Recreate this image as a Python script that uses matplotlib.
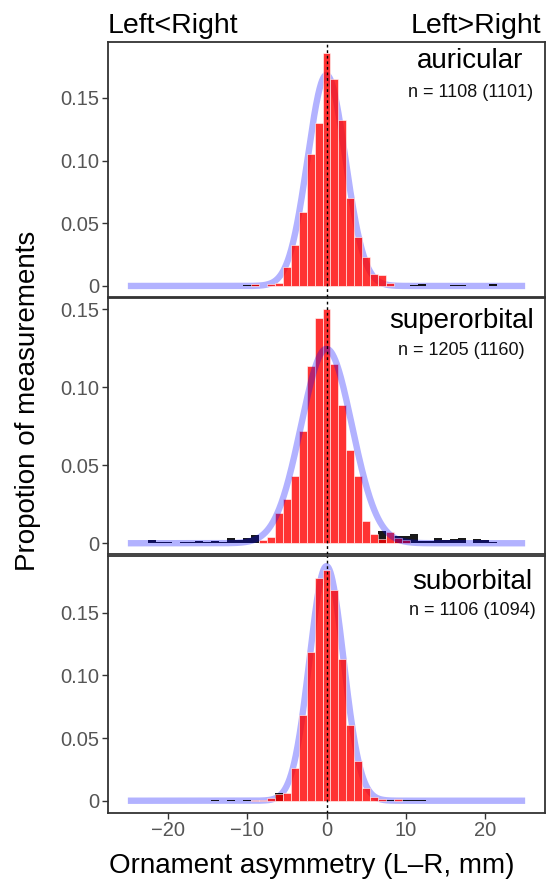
import numpy as np
import matplotlib
matplotlib.use('Agg')
import matplotlib.pyplot as plt

plt.rcParams['font.family'] = ['Liberation Sans', 'DejaVu Sans']
plt.rcParams['axes.unicode_minus'] = True

panels = ['auricular', 'superorbital', 'suborbital']
n_labels = ['n = 1108 (1101)', 'n = 1205 (1160)', 'n = 1106 (1094)']

aur_bins = [-9, -7, -6, -5, -4, -3, -2, -1, 0, 1, 2, 3, 4, 5, 6, 7, 8]
aur_vals = [0.0013, 0.0015, 0.002, 0.015, 0.033, 0.059, 0.105, 0.130, 0.186,
            0.165, 0.132, 0.0705, 0.039, 0.023, 0.0096, 0.0088, 0.0027]
aur_out_bins = [-10, -9, 11, 12, 16, 17, 21]
aur_out_vals = [0.0009, 0.0009, 0.0009, 0.0015, 0.0009, 0.0009, 0.0015]

sup_bins = [-8, -7, -6, -5, -4, -3, -2, -1, 0, 1, 2, 3, 4, 5, 6, 7, 8, 9, 10]
sup_vals = [0.002, 0.0043, 0.0193, 0.0286, 0.0434, 0.072, 0.114, 0.1445, 0.150,
            0.115, 0.089, 0.060, 0.043, 0.0144, 0.006, 0.003, 0.0071, 0.0035, 0.002]
sup_out_bins = [-22, -21, -20, -18, -17, -16, -15, -14, -13, -12, -11, -10, -9,
                7, 9, 10, 11, 12, 13, 14, 15, 16, 17, 19, 20, 21, 23]
sup_out_vals = [0.0019, 0.0006, 0.0006, 0.0009, 0.0009, 0.0017, 0.0011, 0.0017,
                0.0011, 0.0036, 0.0022, 0.0036, 0.0054,
                0.0079, 0.0045, 0.0045, 0.0058, 0.0017, 0.0017, 0.0032, 0.0022,
                0.0026, 0.0032, 0.0026, 0.0022, 0.0011, 0.0004]

sub_bins = [-9, -8, -7, -6, -5, -4, -3, -2, -1, 0, 1, 2, 3, 4, 5, 6, 7, 9]
sub_vals = [0.0005, 0.0005, 0.002, 0.005, 0.006, 0.0265, 0.0688, 0.119, 0.178,
            0.1844, 0.1685, 0.113, 0.0606, 0.0317, 0.0103, 0.0032, 0.001, 0.001]
sub_out_bins = [-14, -12, -10, -6, 8, 10, 11, 12]
sub_out_vals = [0.0005, 0.0005, 0.0009, 0.0063, 0.0009, 0.0009, 0.0005, 0.0005]

# fitted normal curves (mean, sd)
fit_mean = [0.0, 0.0, 0.0]
fit_sd = [2.37, 3.2, 2.13]

bins = [aur_bins, sup_bins, sub_bins]
vals = [aur_vals, sup_vals, sub_vals]
out_bins = [aur_out_bins, sup_out_bins, sub_out_bins]
out_vals = [aur_out_vals, sup_out_vals, sub_out_vals]

ylims = [(-0.0088, 0.1946), (-0.0069, 0.1570), (-0.0098, 0.1958)]
curve_on_top = [False, True, False]
title_y = [0.898, 0.886, 0.871]
n_y = [0.784, 0.780, 0.769]
label_x = [18.1, 17.0, 18.4]

fig = plt.figure(figsize=(5.47, 8.8), dpi=100)
left, width = 108 / 547, 437 / 547
rows = [(42, 297), (298.5, 554), (555.5, 813)]   # panel top/bottom in pixels
frame = '#333333'

for i in range(3):
    top, bot = rows[i]
    ax = fig.add_axes([left, 1 - bot / 880, width, (bot - top) / 880])
    xs = np.linspace(-25, 25, 801)
    ys = np.exp(-0.5 * ((xs - fit_mean[i]) / fit_sd[i]) ** 2) / (fit_sd[i] * np.sqrt(2 * np.pi))
    ax.plot(xs, ys, color='#0000FF', alpha=0.3, lw=4.6, solid_capstyle='butt',
            zorder=5 if curve_on_top[i] else 1)
    ax.bar(out_bins[i], out_vals[i], width=1, color='black', alpha=0.9,
           linewidth=0, zorder=2)
    ax.bar(bins[i], vals[i], width=1, color='#FF0000', alpha=0.8,
           edgecolor=(1, 1, 1, 0.22), linewidth=0.5, zorder=3)
    ax.axvline(0, color='black', lw=1, linestyle=(0, (2, 2)), zorder=6)

    ax.set_xlim(-27.5, 27.5)
    ax.set_ylim(*ylims[i])
    ax.set_yticks([0, 0.05, 0.10, 0.15])
    ax.set_yticklabels(['0', '0.05', '0.10', '0.15'])
    ax.set_xticks([-20, -10, 0, 10, 20])
    for s in ax.spines.values():
        s.set_color(frame)
        s.set_linewidth(1.3)
    ax.tick_params(axis='both', direction='out', length=4, width=1, color=frame,
                   labelsize=14.5, labelcolor='#555555', pad=2)
    if i < 2:
        ax.tick_params(axis='x', bottom=False, labelbottom=False)

    ax.text(label_x[i], ylims[i][0] + title_y[i] * (ylims[i][1] - ylims[i][0]),
            panels[i], ha='center', va='baseline', fontsize=20, color='black')
    ax.text(label_x[i], ylims[i][0] + n_y[i] * (ylims[i][1] - ylims[i][0]),
            n_labels[i], ha='center', va='baseline', fontsize=13, color='#111111')

fig.text(108 / 547, 1 - 33 / 880, 'Left<Right', ha='left', va='baseline', fontsize=20.5)
fig.text(541 / 547, 1 - 33 / 880, 'Left>Right', ha='right', va='baseline', fontsize=20.5)
fig.text(28 / 547, 1 - 401 / 880, 'Propotion of measurements', rotation=90,
         ha='center', va='center', fontsize=20)
fig.text(311.5 / 547, 1 - 873 / 880, 'Ornament asymmetry (L\u2013R, mm)',
         ha='center', va='baseline', fontsize=20)

plt.savefig('out.png', dpi=100)
